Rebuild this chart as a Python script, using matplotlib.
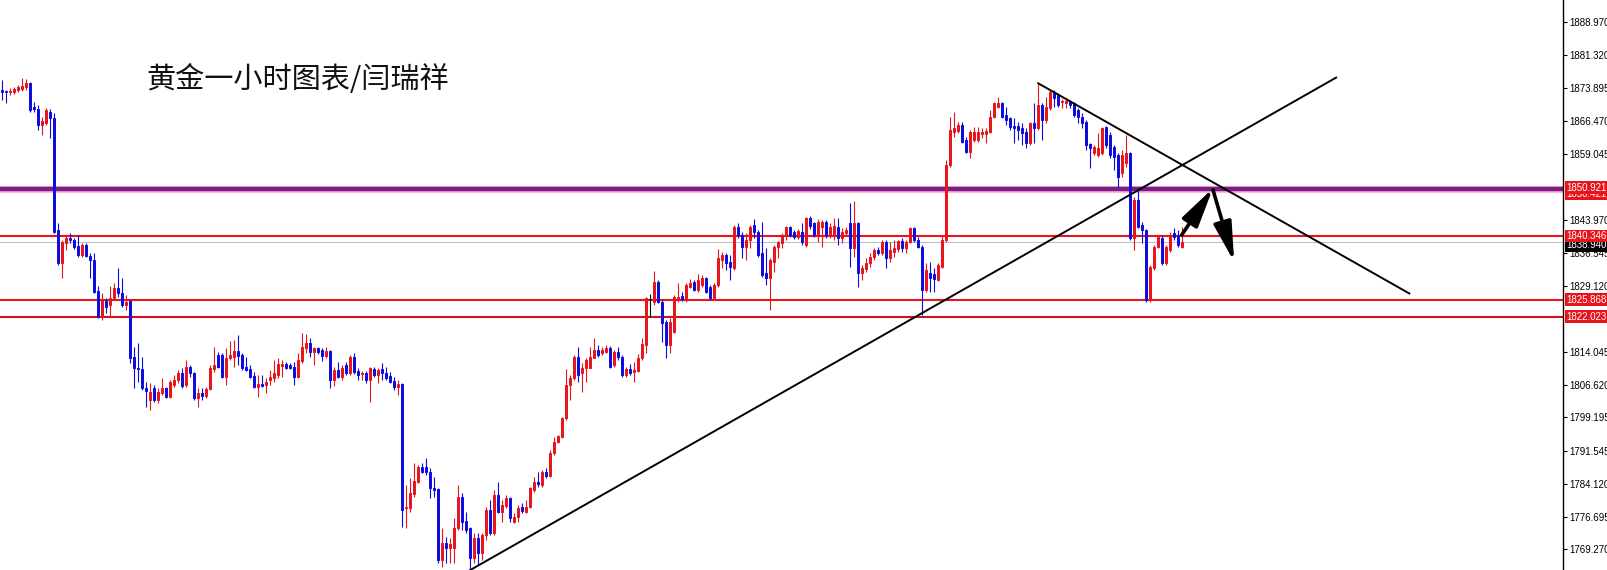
import matplotlib
matplotlib.use("Agg")
import matplotlib.pyplot as plt
import matplotlib.transforms as mtransforms
import numpy as np

# ---------------- data (gold, 1-hour candles) ----------------
opens = [
1873.5,1873.2,1873.0,1873.0,1873.5,1873.7,1874.2,1875.1,1869.6,1869.2,
1865.5,1866.0,1868.5,1867.1,1841.7,1834.3,1838.8,1839.9,1839.5,1838.1,
1836.1,1838.3,1835.8,1834.9,1827.9,1822.0,1825.6,1824.7,1826.3,1828.6,
1827.5,1824.7,1825.6,1812.9,1810.4,1810.2,1805.9,1803.2,1805.9,1803.2,
1804.8,1805.9,1803.9,1806.6,1807.7,1809.3,1806.6,1810.7,1809.3,1803.6,
1804.8,1804.1,1805.7,1810.2,1813.4,1813.4,1808.4,1812.7,1812.9,1814.3,
1813.4,1810.7,1810.2,1808.6,1806.1,1806.8,1806.6,1807.7,1808.2,1808.9,
1810.9,1811.4,1811.1,1810.7,1808.4,1812.0,1815.0,1816.1,1814.1,1815.0,
1814.5,1813.2,1814.3,1807.7,1810.0,1808.4,1811.1,1809.3,1812.9,1809.8,
1809.1,1809.3,1807.7,1810.2,1808.9,1810.2,1809.3,1808.6,1807.5,1806.1,
1806.8,1778.7,1778.7,1781.9,1784.6,1788.0,1788.0,1786.9,1783.2,1783.0,
1766.9,1770.8,1769.6,1769.6,1774.2,1781.2,1775.7,1774.2,1767.4,1771.9,
1768.5,1772.6,1778.2,1773.0,1781.6,1777.8,1779.2,1781.0,1775.5,1776.7,
1778.9,1777.8,1778.9,1782.8,1784.6,1783.9,1786.9,1786.0,1791.2,1793.7,
1794.8,1799.1,1806.6,1808.2,1812.9,1809.3,1810.4,1810.4,1812.7,1814.5,
1813.8,1814.1,1815.0,1811.1,1814.1,1812.9,1808.9,1810.2,1809.5,1809.8,
1812.7,1815.7,1826.0,1825.4,1829.9,1825.4,1820.9,1815.7,1818.6,1825.9,
1826.8,1826.1,1828.8,1829.9,1828.1,1829.3,1830.9,1828.8,1826.3,1829.3,
1834.9,1836.1,1834.5,1833.1,1842.4,1840.6,1837.9,1839.5,1842.9,1841.3,
1836.5,1832.0,1830.9,1834.5,1837.9,1838.8,1840.6,1842.4,1841.3,1840.2,
1841.3,1838.3,1844.5,1843.3,1840.6,1842.4,1843.5,1840.6,1840.6,1842.4,
1839.9,1841.1,1843.3,1837.7,1843.3,1832.0,1832.9,1834.3,1835.6,1837.2,
1836.5,1839.0,1835.4,1836.7,1837.4,1839.2,1837.7,1839.0,1842.2,1839.5,
1837.9,1828.1,1832.0,1831.8,1830.4,1833.3,1839.5,1856.5,1864.0,1864.2,
1865.5,1862.1,1859.4,1862.1,1862.1,1863.5,1863.5,1864.0,1867.4,1869.6,
1870.5,1867.8,1867.1,1865.3,1865.3,1864.9,1864.0,1861.5,1866.0,1864.9,
1870.1,1866.7,1869.4,1873.0,1872.3,1870.8,1870.5,1871.0,1870.5,1868.9,
1867.4,1866.2,1861.2,1859.2,1858.7,1859.2,1865.1,1863.3,1860.6,1858.7,
1854.7,1856.9,1859.2,1839.9,1848.5,1842.9,1841.7,1825.9,1833.1,1837.9,
1839.9,1834.3,1837.2,1841.1,1840.6,1837.9,
]
highs = [
1875.7,1873.5,1873.9,1874.2,1874.6,1876.2,1876.0,1875.3,1870.8,1870.1,
1867.4,1869.4,1869.2,1868.3,1843.3,1839.5,1840.4,1841.1,1839.9,1840.6,
1838.8,1838.8,1836.5,1836.5,1829.0,1827.5,1826.3,1829.0,1829.7,1833.1,
1830.9,1827.0,1825.9,1815.2,1816.1,1812.9,1807.3,1807.0,1806.6,1805.9,
1808.2,1806.1,1807.7,1808.9,1810.0,1810.4,1812.3,1811.1,1809.5,1805.9,
1805.9,1806.1,1811.1,1815.2,1814.1,1813.8,1815.0,1816.6,1816.8,1817.9,
1813.8,1812.9,1811.1,1809.5,1808.9,1808.9,1808.2,1810.0,1812.3,1812.7,
1812.3,1811.8,1811.6,1811.8,1813.8,1818.4,1818.2,1817.3,1815.2,1815.2,
1815.0,1815.2,1814.5,1810.7,1811.8,1811.1,1811.8,1813.4,1813.8,1810.4,
1809.8,1809.8,1810.7,1810.7,1810.4,1811.6,1810.7,1809.5,1808.4,1807.7,
1807.0,1783.9,1785.5,1788.9,1788.5,1788.9,1790.0,1787.8,1785.7,1783.2,
1774.2,1772.1,1771.9,1776.4,1783.9,1782.1,1777.8,1774.4,1773.0,1773.0,
1773.0,1778.9,1780.5,1782.8,1784.6,1780.5,1781.6,1781.2,1777.6,1779.4,
1779.8,1780.5,1783.5,1785.7,1786.9,1787.3,1787.8,1791.8,1794.8,1795.3,
1799.3,1810.2,1808.9,1813.4,1815.2,1811.6,1812.7,1815.2,1817.3,1815.7,
1815.2,1815.7,1815.4,1814.5,1815.2,1813.4,1810.7,1811.4,1811.8,1813.6,
1817.3,1826.5,1827.2,1832.4,1830.4,1825.9,1821.3,1821.8,1827.0,1829.7,
1827.7,1829.7,1830.6,1830.4,1831.8,1831.5,1831.1,1829.3,1829.7,1837.4,
1836.8,1836.5,1836.1,1842.9,1843.3,1841.3,1841.1,1842.9,1844.2,1841.7,
1843.5,1837.7,1835.4,1838.3,1839.2,1841.1,1842.6,1842.6,1841.7,1842.0,
1843.3,1844.7,1844.9,1843.5,1844.2,1844.0,1844.0,1843.3,1844.5,1844.5,
1842.2,1842.4,1847.9,1848.3,1843.5,1833.8,1835.4,1836.5,1837.7,1837.9,
1839.5,1839.5,1839.0,1839.5,1839.5,1839.9,1839.5,1842.4,1842.4,1840.2,
1838.3,1834.3,1834.5,1833.1,1834.3,1840.6,1857.6,1867.4,1868.5,1866.2,
1866.2,1862.8,1864.4,1865.1,1865.1,1864.9,1864.9,1868.9,1870.8,1871.9,
1870.8,1869.6,1867.4,1867.1,1866.2,1866.0,1864.9,1866.2,1870.5,1875.1,
1870.5,1871.9,1873.5,1873.5,1872.8,1871.5,1871.7,1871.2,1870.8,1869.4,
1868.3,1866.7,1861.5,1861.0,1863.7,1865.1,1865.3,1864.0,1861.0,1859.2,
1859.9,1863.3,1859.4,1849.2,1851.3,1843.5,1842.0,1833.8,1838.3,1840.6,
1840.6,1838.3,1841.3,1842.2,1841.7,1842.4,
]
lows = [
1871.2,1870.5,1872.3,1872.6,1873.0,1873.2,1873.5,1868.5,1868.5,1864.4,
1863.3,1865.5,1862.6,1841.1,1833.8,1830.9,1837.2,1838.8,1837.4,1835.6,
1835.6,1835.6,1830.9,1827.5,1821.8,1821.3,1822.9,1822.2,1825.9,1826.5,
1824.3,1823.6,1811.6,1805.9,1807.3,1805.5,1801.6,1800.9,1802.7,1802.5,
1804.3,1803.6,1803.6,1806.1,1807.0,1805.9,1806.1,1808.4,1803.2,1801.6,
1803.2,1803.6,1805.5,1809.5,1810.4,1808.2,1806.6,1812.3,1810.7,1811.1,
1810.0,1809.8,1808.2,1805.9,1803.9,1806.1,1804.8,1806.6,1807.3,1808.2,
1808.4,1810.2,1810.2,1806.6,1808.2,1811.6,1813.8,1812.9,1811.1,1813.6,
1812.0,1812.7,1805.9,1806.4,1808.2,1807.7,1808.9,1808.9,1809.1,1807.7,
1807.7,1807.0,1802.7,1808.4,1807.0,1807.7,1807.7,1807.0,1805.5,1804.3,
1774.4,1774.2,1777.8,1781.2,1784.4,1786.6,1786.2,1781.0,1781.2,1766.2,
1765.3,1766.2,1766.2,1766.2,1773.7,1773.7,1773.0,1764.6,1766.2,1765.8,
1766.9,1771.4,1772.6,1772.6,1777.6,1775.5,1778.7,1775.5,1775.3,1775.5,
1777.6,1777.6,1778.7,1782.3,1783.5,1783.5,1785.5,1785.7,1790.7,1793.4,
1794.6,1798.6,1803.2,1807.7,1807.3,1805.0,1807.3,1810.4,1812.7,1812.9,
1813.4,1813.8,1810.4,1810.7,1812.3,1808.4,1808.4,1808.9,1807.3,1809.5,
1812.3,1813.8,1822.0,1824.7,1825.2,1816.3,1812.7,1813.8,1818.4,1825.4,
1825.6,1825.4,1828.6,1827.9,1827.7,1828.8,1827.5,1825.9,1825.9,1828.8,
1833.1,1832.7,1830.4,1832.7,1839.9,1835.4,1834.9,1837.7,1839.9,1835.6,
1831.1,1829.3,1823.6,1832.2,1835.4,1837.7,1839.5,1840.2,1839.7,1839.7,
1838.3,1837.9,1841.9,1840.2,1839.0,1837.9,1839.9,1839.9,1839.5,1838.3,
1838.8,1840.6,1833.3,1835.6,1828.8,1830.4,1832.2,1833.3,1834.9,1836.1,
1836.1,1833.1,1834.5,1835.6,1836.7,1836.7,1836.5,1838.8,1839.0,1837.7,
1822.5,1827.7,1827.7,1827.7,1830.2,1833.1,1839.0,1856.0,1862.8,1863.7,
1861.5,1859.2,1858.1,1861.7,1861.7,1862.6,1861.5,1863.7,1867.1,1869.4,
1867.1,1865.5,1864.4,1861.5,1862.1,1861.0,1860.3,1861.0,1861.5,1864.4,
1862.1,1866.0,1868.9,1869.6,1869.6,1869.4,1869.4,1869.4,1867.4,1866.0,
1864.9,1859.9,1855.8,1858.7,1858.3,1858.7,1860.3,1858.1,1855.3,1851.5,
1853.7,1856.0,1839.5,1837.2,1842.2,1838.8,1825.4,1825.4,1832.7,1837.7,
1833.8,1833.8,1836.7,1839.5,1837.9,1837.7,
]
closes = [
1873.0,1873.0,1873.2,1873.7,1874.2,1874.4,1875.1,1868.9,1869.2,1865.5,
1866.4,1868.9,1867.1,1841.3,1834.3,1839.0,1839.9,1839.5,1837.9,1836.1,
1838.3,1835.8,1834.9,1827.7,1822.0,1825.9,1824.3,1826.3,1828.6,1827.5,
1824.7,1825.4,1812.7,1810.4,1810.2,1805.9,1805.2,1805.0,1803.2,1805.0,
1805.9,1803.9,1807.3,1807.7,1809.3,1806.4,1810.7,1809.3,1803.6,1804.8,
1804.1,1805.7,1810.4,1811.1,1810.7,1808.4,1812.7,1813.4,1814.3,1813.2,
1810.4,1810.0,1808.4,1806.1,1806.8,1806.4,1807.3,1808.4,1809.3,1811.4,
1811.4,1810.4,1810.4,1808.4,1812.3,1815.2,1816.1,1814.1,1815.0,1814.1,
1813.2,1814.3,1807.7,1810.0,1808.4,1810.4,1809.3,1812.9,1809.5,1808.9,
1809.3,1807.7,1810.4,1808.9,1810.0,1809.3,1808.2,1807.3,1806.1,1806.8,
1778.2,1778.9,1782.1,1784.8,1788.0,1786.9,1786.9,1783.2,1782.8,1766.9,
1770.8,1769.6,1770.5,1774.2,1781.2,1775.5,1773.7,1767.4,1771.9,1768.5,
1772.6,1778.2,1773.0,1781.6,1777.8,1779.4,1781.0,1776.4,1776.7,1778.7,
1778.0,1778.9,1783.2,1784.6,1784.1,1786.9,1786.0,1791.2,1793.7,1795.0,
1799.1,1806.6,1808.2,1812.9,1808.9,1810.4,1812.3,1812.9,1814.5,1813.4,
1814.5,1815.0,1810.7,1814.1,1812.9,1808.9,1810.2,1809.3,1810.0,1812.7,
1815.9,1826.3,1826.0,1829.9,1825.4,1820.7,1815.7,1820.9,1826.5,1826.5,
1826.1,1829.3,1829.7,1828.1,1830.4,1830.9,1827.7,1826.3,1829.3,1835.4,
1836.1,1834.3,1833.3,1842.4,1840.6,1837.9,1839.5,1842.4,1841.3,1836.1,
1831.5,1830.9,1834.9,1837.9,1839.0,1840.6,1842.4,1840.6,1840.2,1841.5,
1839.0,1844.5,1842.6,1840.6,1843.5,1843.5,1840.6,1842.4,1842.6,1839.9,
1841.3,1841.7,1837.7,1843.3,1832.0,1833.1,1834.3,1835.6,1837.2,1836.5,
1839.0,1835.4,1837.2,1837.7,1839.2,1837.7,1839.0,1842.2,1839.5,1837.9,
1828.1,1832.7,1830.9,1830.6,1833.8,1839.5,1856.5,1864.4,1864.9,1865.5,
1861.7,1859.4,1864.0,1864.0,1864.0,1864.0,1864.2,1867.4,1870.5,1870.5,
1867.4,1866.7,1865.1,1864.9,1864.4,1863.7,1861.5,1866.0,1864.9,1870.1,
1866.7,1869.6,1873.0,1871.7,1870.1,1871.0,1871.0,1870.1,1867.8,1867.4,
1866.0,1861.0,1860.3,1860.6,1860.3,1864.9,1861.0,1858.7,1858.3,1853.7,
1858.7,1859.2,1839.9,1848.5,1842.4,1841.7,1825.9,1833.3,1837.9,1840.2,
1834.3,1837.9,1840.6,1840.2,1838.3,1838.9,
]

# horizontal levels
level_purple = 1850.921
levels_red = [1840.346, 1825.868]
level_darkred = 1822.023
current_price = 1838.940
hidden_label = 1850.421

# price-axis ticks
tick_vals = [1888.970, 1881.320, 1873.895, 1866.470, 1859.045, 1843.970,
             1836.545, 1829.120, 1814.045, 1806.620, 1799.195, 1791.545,
             1784.120, 1776.695, 1769.270]
tick_labels = ["%.3f" % v for v in tick_vals]

# trend lines (bar index, price)
up_trend_x = [116.8, 333.8]
up_trend_y = [1764.4, 1876.4]
down_trend_x = [258.9, 352.1]
down_trend_y = [1875.1, 1827.2]

# forecast arrows: (start bar, start price, end bar, end price)
arrows = [(295.0, 1840.6, 302.8, 1851.2),
          (302.8, 1850.8, 308.1, 1834.5)]

title = "黄金一小时图表/闫瑞祥"

# ---------------- drawing ----------------
axis_font = "Liberation Sans"
axis_fs = 7

W, H = 1607, 570
fig = plt.figure(figsize=(W / 100, H / 100), dpi=100)
fig.patch.set_facecolor("white")
ax = fig.add_axes([0, 0, 1563 / W, 1])
ax.set_facecolor("white")

n = min(len(opens), len(highs), len(lows), len(closes))
o = np.array(opens[:n]); h = np.array(highs[:n])
l = np.array(lows[:n]); c = np.array(closes[:n])
x = np.arange(n)

BLUE = "#0c0ce0"
RED = "#e8141c"
cols = np.where(c > o, RED, np.where(c < o, BLUE, "black"))

ax.vlines(x, l, h, colors=cols, linewidth=0.8, zorder=3)
bottom = np.minimum(o, c)
height = np.abs(c - o)
ax.bar(x, height, bottom=bottom, width=0.5, color=cols, edgecolor=cols,
       linewidth=0.7, zorder=4)

# levels
ax.axhline(level_purple, color="#f6c0cc", lw=5.2, zorder=2)
ax.axhline(level_purple, color="#7d1a8c", lw=3.2, zorder=2)
for lv in levels_red:
    ax.axhline(lv, color=RED, lw=1.5, zorder=2)
ax.axhline(level_darkred, color="#cc1420", lw=1.5, zorder=2)
ax.axhline(current_price, color="#c0c0c0", lw=0.8, zorder=1)

# trend lines
ax.plot(up_trend_x, up_trend_y, color="black", lw=1.4, zorder=5,
        solid_capstyle="butt")
ax.plot(down_trend_x, down_trend_y, color="black", lw=1.4, zorder=5,
        solid_capstyle="butt")

for (x0, y0, x1, y1) in arrows:
    ax.annotate("", xy=(x1, y1), xytext=(x0, y0),
                arrowprops=dict(arrowstyle="-|>,head_length=2.4,head_width=0.55",
                                color="black", lw=2.6, shrinkA=0, shrinkB=0,
                                mutation_scale=10),
                zorder=6)

ax.set_xlim(-0.425, 390.3)
ax.set_ylim(1764.58, 1893.89)

# axis styling
for s in ["left", "top", "bottom"]:
    ax.spines[s].set_visible(False)
ax.spines["right"].set_color("black")
ax.spines["right"].set_linewidth(1.0)
ax.set_xticks([])
ax.yaxis.tick_right()
ax.set_yticks(tick_vals)
ax.set_yticklabels(tick_labels, fontsize=axis_fs, family=axis_font)
ax.tick_params(axis="y", direction="out", length=3, width=0.8, pad=1.2,
               colors="black")

# price boxes on the axis
tr = mtransforms.blended_transform_factory(fig.transFigure, ax.transData)
bx = 1566.0 / W
box_kw = dict(transform=tr, ha="left", va="center", fontsize=axis_fs,
              family=axis_font, color="white", clip_on=False)
ax.text(bx, current_price - 0.7, "%.3f" % current_price, zorder=10,
        bbox=dict(boxstyle="square,pad=0.15", fc="black", ec="none"), **box_kw)
for lv in levels_red + [level_darkred]:
    ax.text(bx, lv, "%.3f" % lv, zorder=11,
            bbox=dict(boxstyle="square,pad=0.15", fc=RED, ec="none"), **box_kw)
ax.text(bx, level_purple - 1.0, "%.3f" % hidden_label, zorder=11,
        bbox=dict(boxstyle="square,pad=0.15", fc=RED, ec="none"), **box_kw)
ax.text(bx, level_purple + 0.4, "%.3f" % level_purple, zorder=12,
        bbox=dict(boxstyle="square,pad=0.15", fc=RED, ec="none"), **box_kw)

# title
fig.text(146 / W, 1 - 80 / H, title, fontsize=21,
         family=["Noto Sans CJK SC", "DejaVu Sans"], ha="left", va="center",
         color="#111111")

fig.savefig("out.png", dpi=100, facecolor="white")
